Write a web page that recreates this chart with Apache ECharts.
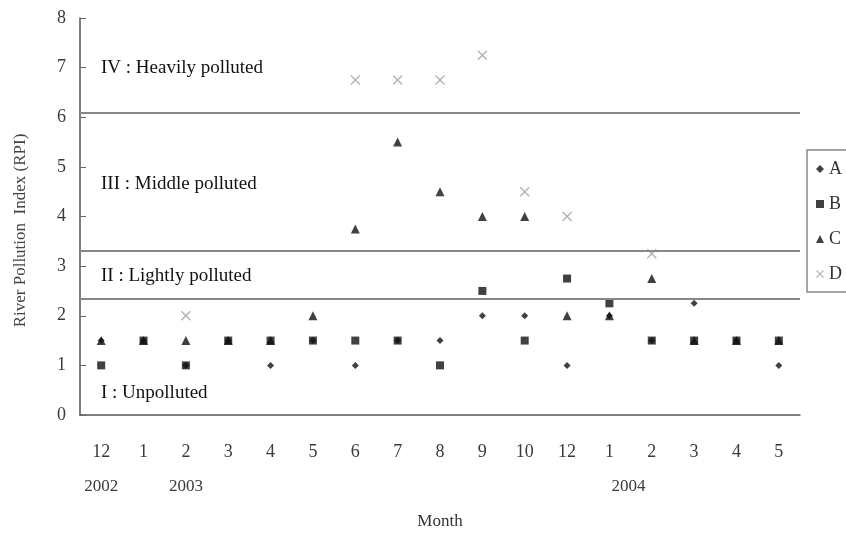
<!DOCTYPE html>
<html>
<head>
<meta charset="utf-8">
<script src="https://cdn.jsdelivr.net/npm/echarts@6/dist/echarts.min.js"></script>
<style>
  html, body { margin: 0; padding: 0; background: #fff; }
  #chart { width: 846px; height: 535px; }
</style>
</head>
<body>
<div id="chart"></div>
<script>
const months = ['12', '1', '2', '3', '4', '5', '6', '7', '8', '9', '10', '12', '1', '2', '3', '4', '5']
const years = ['2002', '', '2003', '', '', '', '', '', '', '', '', '', '2004', '', '', '', '']

const seriesA = [1.5, 1.5, 1, 1.5, 1, 1.5, 1, 1.5, 1.5, 2, 2, 1, 2, 1.5, 2.25, 1.5, 1]
const seriesB = [1, 1.5, 1, 1.5, 1.5, 1.5, 1.5, 1.5, 1, 2.5, 1.5, 2.75, 2.25, 1.5, 1.5, 1.5, 1.5]
const seriesC = [1.5, 1.5, 1.5, 1.5, 1.5, 2, 3.75, 5.5, 4.5, 4, 4, 2, 2, 2.75, 1.5, 1.5, 1.5]
const seriesD = [null, null, 2, null, null, null, 6.75, 6.75, 6.75, 7.25, 4.5, 4, null, 3.25, null, null, null]

// class boundaries and the labels written inside each band
const classLimits = [6.1, 3.3, 2.35]
const classNames = ['IV : Heavily polluted', 'III : Middle polluted', 'II : Lightly polluted', 'I : Unpolluted']
const classLabelY = [7, 4.65, 2.8, 0.45]

const serif = "'Liberation Serif', 'DejaVu Serif', serif"
const crossPath = 'path://M0,1L1,0L5,4L9,0L10,1L6,5L10,9L9,10L5,6L1,10L0,9L4,5Z'

const chart = echarts.init(document.getElementById('chart'))

chart.setOption({
  animation: false,
  grid: { left: 80, right: 46, top: 18, bottom: 118 },
  legend: {
    orient: 'vertical',
    left: 807,
    top: 150,
    padding: [10, 30, 9, 9],
    itemGap: 17,
    itemWidth: 8,
    itemHeight: 8,
    itemStyle: { borderWidth: 0 },
    borderColor: '#888',
    borderWidth: 1.5,
    textStyle: { fontFamily: serif, fontSize: 18, color: '#333' },
    data: ['A', 'B', 'C', 'D'],
  },
  xAxis: [
    {
      type: 'category',
      data: months,
      name: 'Month',
      nameLocation: 'middle',
      nameGap: 98,
      nameTextStyle: { fontFamily: serif, fontSize: 17, color: '#333' },
      axisLine: { lineStyle: { color: '#555', width: 1.5 } },
      axisTick: { inside: true, length: 5, lineStyle: { color: '#666' } },
      axisLabel: { interval: 0, margin: 28, fontFamily: serif, fontSize: 18, color: '#3a3a3a' },
    },
    {
      type: 'category',
      data: years,
      position: 'bottom',
      axisLine: { show: false },
      axisTick: { show: false },
      axisLabel: {
        interval: 0,
        margin: 63,
        fontFamily: serif,
        fontSize: 17,
        color: '#3a3a3a',
        formatter: (v, i) => (i === 12 ? '{shift|' + v + '}' : v),
        rich: { shift: { padding: [0, 0, 0, 38], fontFamily: serif, fontSize: 17, color: '#3a3a3a' } },
      },
    },
  ],
  yAxis: {
    type: 'value',
    min: 0,
    max: 8,
    interval: 1,
    name: 'River Pollution  Index (RPI)',
    nameLocation: 'middle',
    nameRotate: 90,
    nameGap: 51,
    nameTextStyle: { fontFamily: serif, fontSize: 17, color: '#444', padding: [0, 28, 0, 0] },
    axisLine: { show: true, lineStyle: { color: '#555', width: 1.5 } },
    axisTick: { show: true, inside: true, length: 6, lineStyle: { color: '#666' } },
    axisLabel: { margin: 14, fontFamily: serif, fontSize: 18, color: '#3a3a3a' },
    splitLine: { show: false },
  },
  series: [
    { name: 'A', type: 'scatter', z: 2, data: seriesA, symbol: 'diamond', symbolSize: 7, itemStyle: { color: '#111' } },
    { name: 'B', type: 'scatter', z: 4, data: seriesB, symbol: 'rect', symbolSize: 8, itemStyle: { color: '#111' } },
    { name: 'C', type: 'scatter', z: 3, data: seriesC, symbol: 'triangle', symbolSize: 9, itemStyle: { color: '#111' } },
    {
      name: 'D',
      type: 'scatter',
      z: 2,
      data: seriesD,
      symbol: crossPath,
      symbolSize: 10,
      itemStyle: { color: '#a0a0a0' },
      markLine: {
        silent: true,
        symbol: 'none',
        label: { show: false },
        lineStyle: { color: '#888', width: 2, type: 'solid' },
        data: classLimits.map(v => ({ yAxis: v })),
      },
    },
  ],
})

// zone labels placed at their y value through the axis
chart.setOption({
  graphic: classNames.map((t, i) => ({
    type: 'text',
    x: 101,
    y: chart.convertToPixel({ yAxisIndex: 0 }, classLabelY[i]),
    style: {
      text: t,
      fontFamily: serif,
      fontSize: 19,
      fill: '#111',
      verticalAlign: 'middle',
      textVerticalAlign: 'middle',
    },
  })),
})
</script>
</body>
</html>
